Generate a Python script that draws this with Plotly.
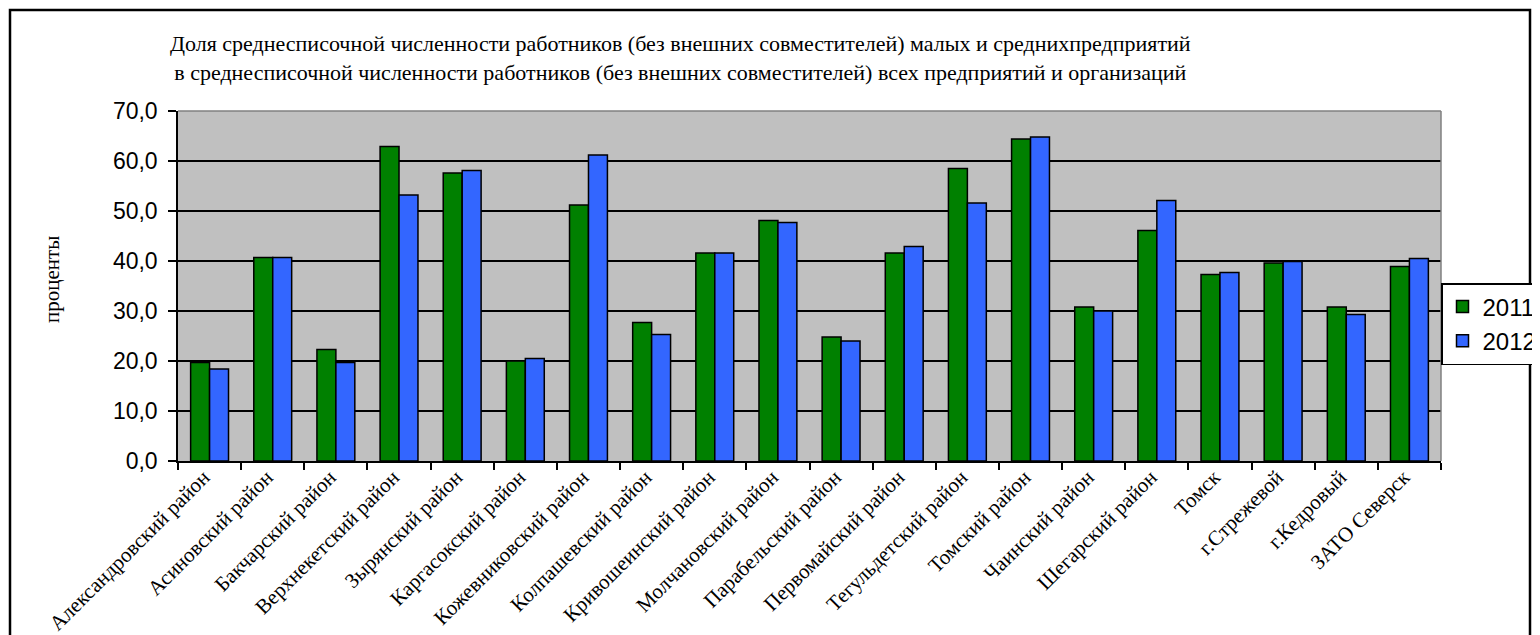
import plotly.graph_objects as go

categories = [
    "Александровский район", "Асиновский район", "Бакчарский район",
    "Верхнекетский район", "Зырянский район", "Каргасокский район",
    "Кожевниковский район", "Колпашевский район", "Кривошеинский район",
    "Молчановский район", "Парабельский район", "Первомайский район",
    "Тегульдетский район", "Томский район", "Чаинский район",
    "Шегарский район", "Томск", "г.Стрежевой", "г.Кедровый", "ЗАТО Северск",
]
values_2011 = [19.7, 40.7, 22.3, 62.9, 57.6, 20.0, 51.2, 27.7, 41.6, 48.1,
               24.8, 41.6, 58.5, 64.4, 30.8, 46.1, 37.3, 39.6, 30.8, 38.9]
values_2012 = [18.4, 40.7, 19.7, 53.2, 58.1, 20.5, 61.2, 25.3, 41.6, 47.7,
               24.0, 42.9, 51.6, 64.8, 30.0, 52.1, 37.7, 39.9, 29.3, 40.5]
series_names = ["2011", "2012"]
title_lines = [
    "Доля среднесписочной численности работников (без внешних совместителей) малых и среднихпредприятий",
    "в среднесписочной численности работников (без внешних совместителей) всех предприятий и организаций",
]
y_title = "проценты"

# page body has an 8px margin, so figure coordinates = screen coordinates - 8
OFF = 8
W, H = 1540, 635
L, R, T, B = 178 - OFF, 1441 - OFF, 111 - OFF, 461 - OFF

SERIF = "Liberation Serif"
SANS = "Liberation Sans"

fig = go.Figure()
fig.add_trace(go.Bar(x=categories, y=values_2011, name=series_names[0],
                     marker=dict(color="#008000", line=dict(color="black", width=1.5))))
fig.add_trace(go.Bar(x=categories, y=values_2012, name=series_names[1],
                     marker=dict(color="#3366FF", line=dict(color="black", width=1.5))))

def px_x(x):
    return (x - OFF - L) / (R - L)

def px_y(y):
    return (B - (y - OFF)) / (B - T)

fig.update_layout(
    template="none",
    width=W, height=H,
    margin=dict(l=L, r=W - R, t=T, b=H - B, pad=0, autoexpand=False),
    paper_bgcolor="white", plot_bgcolor="#C0C0C0",
    barmode="group", bargap=0.4, bargroupgap=0,
    separators=", ",
    showlegend=True,
    legend=dict(x=1.0, xanchor="left", y=px_y(324), yanchor="middle",
                bgcolor="white", bordercolor="black", borderwidth=1.5,
                font=dict(family=SANS, size=24, color="black"),
                itemwidth=30, tracegroupgap=2),
    xaxis=dict(showgrid=False, showline=True, linecolor="black", linewidth=1.5,
               ticks="outside", ticklen=7, tickcolor="black", tickwidth=1.5,
               tickson="boundaries", tickangle=-45, automargin=False,
               ticklabelstandoff=-6, ticklabelshift=-6,
               tickfont=dict(family=SERIF, size=21, color="black")),
    yaxis=dict(range=[0, 70], dtick=10, tickformat=".1f", automargin=False,
               showgrid=True, gridcolor="black", gridwidth=1.5,
               showline=True, linecolor="black", linewidth=1.5,
               ticks="outside", ticklen=8, tickcolor="black", tickwidth=1.5,
               ticklabelstandoff=6,
               tickfont=dict(family=SANS, size=23, color="black"),
               zeroline=False),
    shapes=[
        dict(type="line", xref="paper", yref="paper", x0=0, x1=1, y0=1, y1=1,
             line=dict(color="#808080", width=1.5)),
        dict(type="line", xref="paper", yref="paper", x0=1, x1=1, y0=0, y1=1,
             line=dict(color="#808080", width=1.5)),
        dict(type="rect", xref="paper", yref="paper",
             x0=px_x(10), x1=px_x(1530), y0=px_y(650), y1=px_y(10),
             line=dict(color="black", width=2.5), layer="below"),
    ],
    annotations=[
        dict(text="<br>".join(title_lines), xref="paper", yref="paper",
             x=px_x(680), y=px_y(58), xanchor="center", yanchor="middle",
             showarrow=False, align="center",
             font=dict(family=SERIF, size=22, color="black")),
        dict(text=y_title, xref="paper", yref="paper",
             x=px_x(52), y=px_y(280), xanchor="center", yanchor="middle",
             showarrow=False, textangle=-90,
             font=dict(family=SERIF, size=21, color="black")),
    ],
)

fig.write_html("out.html")
